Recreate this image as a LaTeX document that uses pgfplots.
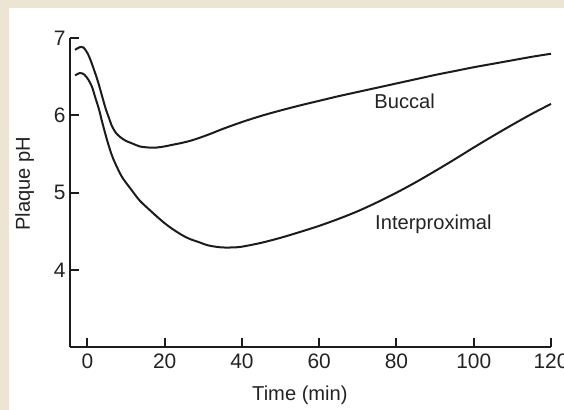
\documentclass[border=0pt]{standalone}
\usepackage{pgfplots}
\pgfplotsset{compat=1.18}
\usepackage{fontspec}
\setmainfont{Liberation Sans}
\definecolor{beigebg}{RGB}{237,229,211}
\definecolor{inkc}{RGB}{28,28,28}
\definecolor{txtc}{RGB}{35,35,35}
\begin{document}
\begin{tikzpicture}
\fill[beigebg] (-35bp,-31.5bp) rectangle (247bp,173.5bp);
\fill[white] (-30.5bp,-31.5bp) rectangle (247bp,169.6bp);
\begin{axis}[
  at={(0,0)}, anchor=south west,
  scale only axis, width=240.5bp, height=154.35bp,
  xmin=-4.5, xmax=120, ymin=3, ymax=7,
  axis lines=left,
  axis line style={inkc, line width=1bp, -},
  every tick/.style={inkc, line width=1bp},
  tick align=inside, major tick length=4.5bp,
  xtick={0,20,40,60,80,100,120},
  ytick={4,5,6,7},
  /pgf/number format/assume math mode=true,
  tick label style={font=\fontsize{10.5}{12}\selectfont, text=txtc},
  yticklabel style={inner xsep=2bp},
  xlabel={Time (min)}, ylabel={Plaque pH},
  label style={font=\fontsize{10.1}{12}\selectfont, text=txtc},
  xlabel style={at={(axis description cs:0.478,-0.1717)}, anchor=base},
  ylabel style={at={(axis description cs:-0.0832,0.529)}, anchor=base, rotate=0},
  clip=false,
]
\addplot[inkc, line width=1bp, smooth, tension=0.5] coordinates {
(-3.2,6.85) (-2.0,6.885) (-1.0,6.88) (0.0,6.81) (0.8,6.72) (1.8,6.58) (2.85,6.42)
(4.6,6.11) (5.5,5.98) (6.3,5.87) (7.3,5.78) (8.5,5.72) (10,5.67) (11.5,5.64)
(13.5,5.60) (15.8,5.585) (18,5.585) (20.1,5.60) (22,5.62) (24,5.64) (26.5,5.67)
(29,5.71) (32,5.765) (35,5.825) (40,5.915) (45,5.995) (50,6.065) (55,6.13)
(60,6.19) (65,6.25) (70,6.305) (75,6.36) (80,6.415) (85,6.47) (90,6.525)
(95,6.575) (100,6.625) (105,6.67) (110,6.715) (115,6.76) (120,6.80)
};
\addplot[inkc, line width=1bp, smooth, tension=0.5] coordinates {
(-3.2,6.52) (-1.9,6.55) (-0.8,6.53) (0.3,6.46) (1.2,6.37) (2.0,6.24) (3.0,6.08)
(3.7,5.94) (4.6,5.77) (5.4,5.63) (6.3,5.49) (7.2,5.38) (9,5.20) (11.5,5.03)
(13.5,4.90) (15.8,4.79) (18,4.69) (20.1,4.60) (22,4.53) (24.5,4.45) (26.5,4.40)
(28.8,4.36) (31,4.32) (33.1,4.30) (35,4.29) (37.5,4.29) (40,4.30) (45,4.35)
(50,4.415) (55,4.49) (60,4.57) (65,4.66) (70,4.76) (75,4.875) (80,5.00)
(85,5.135) (90,5.28) (95,5.43) (100,5.585) (105,5.735) (110,5.88) (115,6.02) (120,6.15)
};
\node[anchor=base west, inner sep=0pt, font=\fontsize{10.1}{12}\selectfont, text=txtc] at (axis cs:74.2,6.09) {Buccal};
\node[anchor=base west, inner sep=0pt, font=\fontsize{10.1}{12}\selectfont, text=txtc] at (axis cs:74.4,4.525) {Interproximal};
\end{axis}
\pgfresetboundingbox
\useasboundingbox (-35bp,-31.5bp) rectangle (247bp,173.5bp);
\end{tikzpicture}
\end{document}
